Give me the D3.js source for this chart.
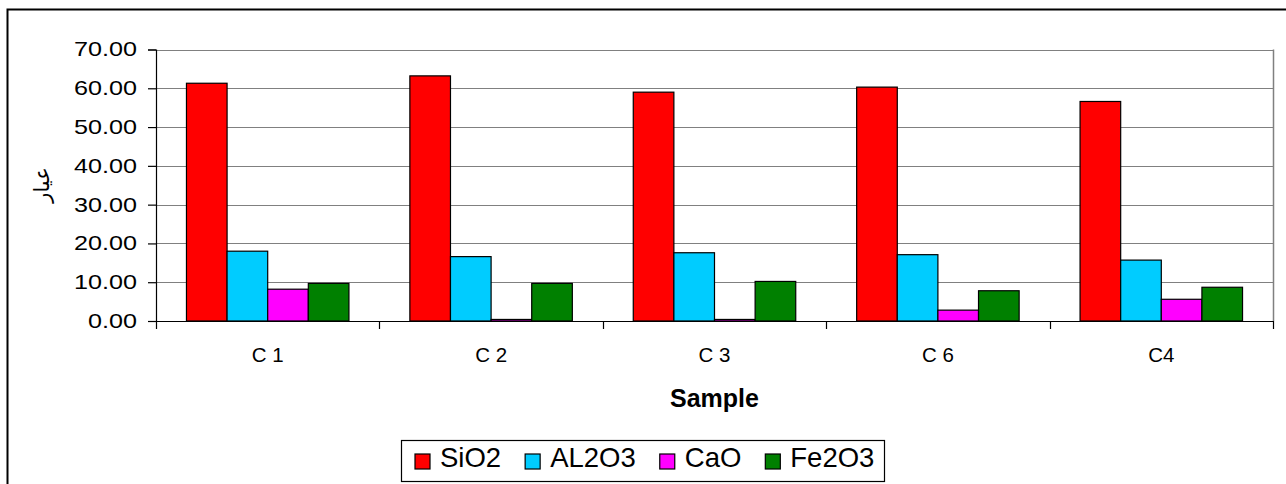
<!DOCTYPE html>
<html>
<head>
<meta charset="utf-8">
<script src="https://cdn.jsdelivr.net/npm/d3@7"></script>
<style>
  body { margin: 0; background: #fff; }
  svg { display: block; font-family: "Liberation Sans", Arial, sans-serif; }
</style>
</head>
<body>
<div id="chart"></div>
<script>
// data
const samples = ['C 1', 'C 2', 'C 3', 'C 6', 'C4'];
const seriesNames = ['SiO2', 'AL2O3', 'CaO', 'Fe2O3'];
const sio2 = [61.3, 63.2, 59.0, 60.3, 56.6];
const al2o3 = [18.0, 16.6, 17.6, 17.1, 15.7];
const cao = [8.2, 0.4, 0.4, 2.8, 5.6];
const fe2o3 = [9.7, 9.7, 10.2, 7.8, 8.7];
const yTicks = [0, 10, 20, 30, 40, 50, 60, 70];
const colors = ['#ff0000', '#00ccff', '#ff00ff', '#008000'];

const seriesValues = [sio2, al2o3, cao, fe2o3];
const W = 1286, H = 484;
const plot = { left: 156, right: 1273, top: 49.5, bottom: 321 };
const stretch = 1.26; // tick numbers look horizontally stretched in the original

const svg = d3.select('#chart').append('svg')
  .attr('width', W).attr('height', H);

// outer chart frame (runs off the window on right/bottom)
svg.append('rect')
  .attr('x', 7.5).attr('y', 9.5)
  .attr('width', W + 20).attr('height', H + 20)
  .attr('fill', '#fff').attr('stroke', '#000').attr('stroke-width', 2);

const x = d3.scaleBand().domain(samples).range([plot.left, plot.right]).paddingInner(0).paddingOuter(0);
// excel style gap width 150%
const inner = d3.scaleBand().domain(seriesNames)
  .range([0, x.bandwidth()]).paddingInner(0).paddingOuter(0.75);
const y = d3.scaleLinear().domain([0, 70]).range([plot.bottom, plot.top]);

const g = svg.append('g');

// gridlines
g.append('g')
  .selectAll('line').data(yTicks.slice(1)).join('line')
  .attr('x1', plot.left).attr('x2', plot.right)
  .attr('y1', d => Math.round(y(d)) + 0.5).attr('y2', d => Math.round(y(d)) + 0.5)
  .attr('stroke', '#808080').attr('stroke-width', 1.2);

// right border of plot area
g.append('line')
  .attr('x1', plot.right + 0.5).attr('x2', plot.right + 0.5)
  .attr('y1', plot.top).attr('y2', plot.bottom)
  .attr('stroke', '#808080').attr('stroke-width', 1.5);

// bars
const groups = g.append('g').selectAll('g').data(samples).join('g')
  .attr('transform', d => `translate(${x(d)},0)`);
groups.selectAll('rect')
  .data((d, i) => seriesNames.map((s, j) => ({ s, v: seriesValues[j][i], c: colors[j] })))
  .join('rect')
  .attr('x', d => inner(d.s))
  .attr('width', inner.bandwidth())
  .attr('y', d => y(d.v))
  .attr('height', d => y(0) - y(d.v))
  .attr('fill', d => d.c)
  .attr('stroke', '#000').attr('stroke-width', 1.2);

// y axis
const yAxis = g.append('g')
  .attr('transform', `translate(${plot.left},0)`)
  .call(d3.axisLeft(y).tickValues(yTicks).tickSize(8).tickPadding(11).tickFormat(d3.format('.2f')));
yAxis.select('.domain').attr('stroke', '#000').attr('stroke-width', 1.2);
yAxis.selectAll('.tick line').attr('stroke', '#000').attr('stroke-width', 1.2);
yAxis.selectAll('.tick text')
  .attr('font-size', 20).attr('fill', '#000')
  .attr('font-family', '"Liberation Sans", Arial, sans-serif')
  .attr('transform', `translate(-19,0) scale(${stretch},1) translate(19,0)`);

// x axis
const xAxis = g.append('g')
  .attr('transform', `translate(0,${plot.bottom})`)
  .call(d3.axisBottom(x).tickSize(0).tickPadding(26));
xAxis.select('.domain').attr('stroke', '#000').attr('stroke-width', 1.2);
xAxis.selectAll('.tick text')
  .attr('font-size', 20.5).attr('fill', '#000')
  .attr('font-family', '"Liberation Sans", Arial, sans-serif');
// category separator ticks
g.append('g').selectAll('line').data(samples.concat(['end'])).join('line')
  .attr('x1', (d, i) => Math.round(plot.left + i * x.step()) + 0.5)
  .attr('x2', (d, i) => Math.round(plot.left + i * x.step()) + 0.5)
  .attr('y1', plot.bottom).attr('y2', plot.bottom + 8)
  .attr('stroke', '#000').attr('stroke-width', 1.2);

// axis titles
svg.append('text')
  .attr('x', (plot.left + plot.right) / 2).attr('y', 407)
  .attr('text-anchor', 'middle')
  .attr('font-size', 25).attr('font-weight', 'bold')
  .text('Sample');

svg.append('text')
  .attr('transform', 'translate(49,185) rotate(-90)')
  .attr('text-anchor', 'middle')
  .attr('font-size', 21)
  .attr('font-family', '"DejaVu Sans", sans-serif')
  .text('عيار');

// legend
const legend = svg.append('g');
legend.append('rect')
  .attr('x', 401.5).attr('y', 440.5).attr('width', 483).attr('height', 41)
  .attr('fill', '#fff').attr('stroke', '#000').attr('stroke-width', 1.2);
const items = legend.selectAll('g.item').data(seriesNames).join('g')
  .attr('class', 'item');
items.append('rect')
  .attr('width', 15).attr('height', 15)
  .attr('fill', (d, i) => colors[i])
  .attr('stroke', '#000').attr('stroke-width', 1.2);
items.append('text')
  .attr('x', 25).attr('y', 13)
  .attr('font-size', 27.5)
  .text(d => d);
// lay items out one after another
let lx = 415;
items.each(function () {
  d3.select(this).attr('transform', `translate(${lx},454)`);
  lx += this.getBBox().width + 24;
});
</script>
</body>
</html>
